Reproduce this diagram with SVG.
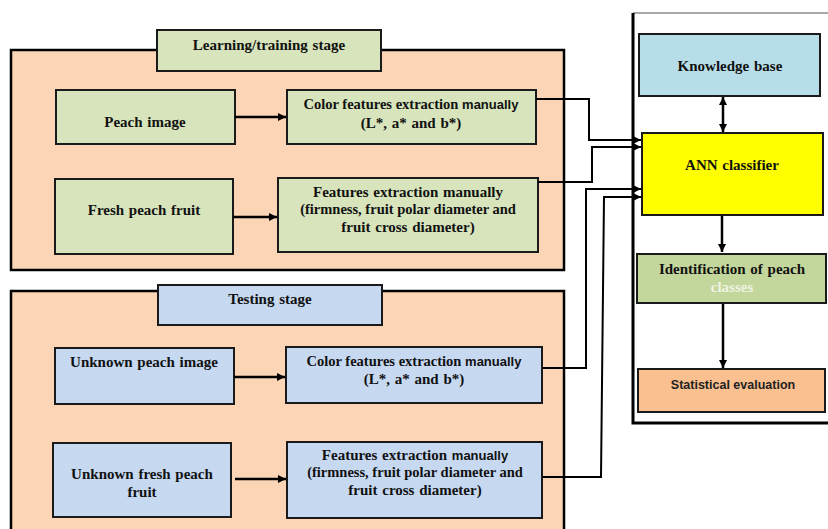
<svg xmlns="http://www.w3.org/2000/svg" width="828" height="529" viewBox="0 0 828 529">
<defs>
<style>
.panel{fill:#fbd5b5;stroke:#000;stroke-width:2.5}
.g{fill:#d7e4bc;stroke:#1a1a1a;stroke-width:2}
.b{fill:#c6d9f1;stroke:#1a1a1a;stroke-width:2}
.t{font-weight:bold;font-size:15px;fill:#111;text-anchor:middle;word-spacing:1px}
.n{word-spacing:0;font-size:14.5px}
.s{font-family:'Liberation Sans', Arial, sans-serif;font-weight:bold;font-size:13px;word-spacing:0}
.c{fill:none;stroke:#000;stroke-width:2}
.a{fill:none;stroke:#000;stroke-width:2.5}
</style>
<marker id="ah" markerUnits="userSpaceOnUse" markerWidth="8" markerHeight="8" refX="8" refY="4" orient="auto-start-reverse">
<path d="M0,0 L8,4 L0,8 z" fill="#000"/>
</marker>
</defs>
<rect width="828" height="529" fill="#fff"/>
<g font-family="'Liberation Serif', 'Times New Roman', serif">
<g id="learning-panel">
<rect class="panel" x="11" y="50" width="553" height="220"/>
</g>
<g id="learning-title">
<rect class="g" x="157" y="30" width="224" height="41"/>
<text class="t" x="269" y="50">Learning/training  stage</text>
</g>
<g id="peach-image">
<rect class="g" x="56" y="90" width="179" height="54"/>
<text class="t" x="145" y="127">Peach image</text>
</g>
<g id="color-features-learning">
<rect class="g" x="287" y="90" width="249" height="54"/>
<text class="t n" x="411" y="109">Color features extraction <tspan class="s">manually</tspan></text>
<text class="t" x="411" y="128">(L*, a* and b*)</text>
</g>
<g id="fresh-peach-fruit">
<rect class="g" x="55" y="179" width="178" height="75"/>
<text class="t" x="144" y="215">Fresh peach fruit</text>
</g>
<g id="features-learning">
<rect class="g" x="278" y="178" width="260" height="74"/>
<text class="t" x="408" y="197">Features extraction  manually</text>
<text class="t n" x="408" y="214">(firmness, fruit polar diameter and</text>
<text class="t" x="408" y="232">fruit cross diameter)</text>
</g>

<g id="testing-panel">
<rect class="panel" x="11" y="291" width="553" height="250"/>
</g>
<g id="testing-title">
<rect class="b" x="158" y="285" width="224" height="40"/>
<text class="t" x="270" y="304">Testing stage</text>
</g>
<g id="unknown-peach-image">
<rect class="b" x="55" y="348" width="179" height="56"/>
<text class="t" x="144" y="367">Unknown  peach image</text>
</g>
<g id="color-features-testing">
<rect class="b" x="286" y="347" width="256" height="56"/>
<text class="t n" x="414" y="366">Color features extraction  <tspan class="s">manually</tspan></text>
<text class="t" x="414" y="384">(L*, a* and b*)</text>
</g>
<g id="unknown-fresh-peach-fruit">
<rect class="b" x="53" y="443" width="178" height="74"/>
<text class="t" x="142" y="479">Unknown  fresh peach</text>
<text class="t" x="142" y="497">fruit</text>
</g>
<g id="features-testing">
<rect class="b" x="287" y="442" width="255" height="76"/>
<text class="t" x="415" y="460">Features extraction <tspan class="s">manually</tspan></text>
<text class="t n" x="415" y="477">(firmness, fruit polar diameter and</text>
<text class="t" x="415" y="495">fruit cross diameter)</text>
</g>

<g id="classifier-panel">
<path d="M633,13 H828" fill="none" stroke="#555" stroke-width="1.2"/>
<path d="M633,13 V423 H828" fill="none" stroke="#000" stroke-width="3"/>
</g>
<g id="knowledge-base">
<rect x="639" y="34" width="181" height="62" fill="#b7dee8" stroke="#1a1a1a" stroke-width="2"/>
<text class="t" x="730" y="71">Knowledge base</text>
</g>
<g id="ann-classifier">
<rect x="642" y="133" width="181" height="82" fill="#ffff00" stroke="#1a1a1a" stroke-width="2"/>
<text class="t" x="732" y="170">ANN classifier</text>
</g>
<g id="identification">
<rect x="637" y="254" width="189" height="49" fill="#c3d69b" stroke="#1a1a1a" stroke-width="2"/>
<text class="t" x="732" y="274">Identification  of peach</text>
<text class="t" x="732" y="292" style="fill:#eef3e2">classes</text>
</g>
<g id="statistical-evaluation">
<rect x="638" y="369" width="187" height="43" fill="#fac08f" stroke="#1a1a1a" stroke-width="2"/>
<text class="t s" x="733" y="389" style="font-size:12.5px;fill:#222">Statistical evaluation</text>
</g>
</g>
<g id="connectors">
<path class="a" d="M235,117 H286" marker-end="url(#ah)"/>
<path class="a" d="M233,217 H277" marker-end="url(#ah)"/>
<path class="a" d="M234,377 H285" marker-end="url(#ah)"/>
<path class="a" d="M235,479 H286" marker-end="url(#ah)"/>
<path class="c" d="M536,99 H589 V140 H641" marker-end="url(#ah)"/>
<path class="c" d="M538,182 H592 V147 H641" marker-end="url(#ah)"/>
<path class="c" d="M542,368 H586 V189 H641" marker-end="url(#ah)"/>
<path class="c" d="M542,477 H601 L604,197 H641" marker-end="url(#ah)"/>
<path class="a" d="M723,97 V132" marker-start="url(#ah)" marker-end="url(#ah)"/>
<path class="a" d="M722,216 V252" marker-end="url(#ah)"/>
<path class="a" d="M723,304 V368" marker-end="url(#ah)"/>
</g>
</svg>
